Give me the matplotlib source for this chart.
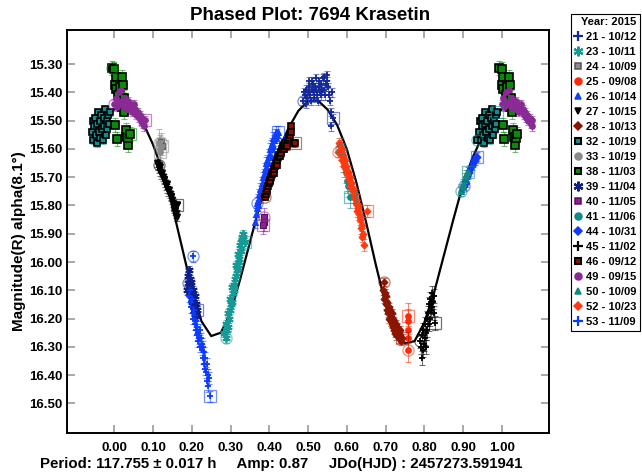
import matplotlib.pyplot as plt
import numpy as np
from matplotlib.lines import Line2D

plt.rcParams['font.family'] = ['Liberation Sans', 'DejaVu Sans']
plt.rcParams['font.weight'] = 'bold'

# Fourier fit, one cycle
fit_ph = [0.000, 0.025, 0.050, 0.075, 0.100, 0.125, 0.150, 0.175, 0.200, 0.225,
          0.250, 0.275, 0.300, 0.325, 0.350, 0.375, 0.400, 0.425, 0.450, 0.475,
          0.500, 0.525, 0.550, 0.575, 0.600, 0.625, 0.650, 0.675, 0.700, 0.725,
          0.750, 0.775, 0.800, 0.825, 0.850, 0.875, 0.900, 0.925, 0.950, 0.975]
fit_mag = [15.460, 15.445, 15.460, 15.510, 15.585, 15.680, 15.805, 15.950, 16.095, 16.210,
           16.262, 16.250, 16.180, 16.060, 15.930, 15.800, 15.690, 15.600, 15.525, 15.465,
           15.430, 15.428, 15.460, 15.515, 15.600, 15.720, 15.860, 16.010, 16.150, 16.245,
           16.288, 16.280, 16.215, 16.110, 15.980, 15.850, 15.725, 15.630, 15.555, 15.495]

# sessions: phase / magnitude
ph21 = [0.488, 0.490, 0.492, 0.494, 0.496, 0.498, 0.500, 0.502, 0.503, 0.506, 0.507, 0.509,
        0.511, 0.512, 0.515, 0.516, 0.518, 0.520, 0.521, 0.524, 0.525, 0.527, 0.529, 0.530,
        0.533, 0.534, 0.536, 0.538, 0.540, 0.542, 0.544, 0.546, 0.548, 0.550, 0.552, 0.554,
        0.556, 0.558, 0.560, 0.562, 0.565]
mag21 = [15.430, 15.400, 15.410, 15.440, 15.390, 15.420, 15.400, 15.360, 15.380, 15.410, 15.430, 15.390,
         15.360, 15.370, 15.400, 15.420, 15.380, 15.350, 15.390, 15.410, 15.430, 15.380, 15.360, 15.400,
         15.370, 15.410, 15.390, 15.350, 15.345, 15.390, 15.410, 15.370, 15.340, 15.360, 15.380, 15.410,
         15.430, 15.520, 15.470, 15.400, 15.490]
ph23 = [0.287, 0.284, 0.291, 0.289, 0.293, 0.296, 0.294, 0.298, 0.301, 0.299, 0.303, 0.306,
        0.304, 0.308, 0.311, 0.309, 0.313, 0.316, 0.314, 0.318, 0.321, 0.319, 0.323, 0.326,
        0.324, 0.328, 0.330, 0.327, 0.333, 0.331, 0.337]
mag23 = [16.270, 16.250, 16.240, 16.220, 16.230, 16.200, 16.180, 16.170, 16.150, 16.130, 16.140, 16.110,
         16.090, 16.100, 16.060, 16.080, 16.050, 16.030, 16.010, 16.020, 15.990, 15.970, 16.000, 15.950,
         15.940, 15.960, 15.910, 15.930, 15.900, 15.920, 15.930]
ph24 = [0.121, 0.123]
mag24 = [15.575, 15.590]
ph25 = [0.757, 0.757, 0.758, 0.758, 0.758]
mag25 = [16.310, 16.270, 16.240, 16.210, 16.190]
ph26 = [0.368, 0.364, 0.366, 0.369, 0.371, 0.372, 0.374, 0.376, 0.377, 0.379, 0.380, 0.382,
        0.383, 0.385, 0.386, 0.388, 0.389, 0.391, 0.392, 0.394, 0.395, 0.397, 0.398, 0.400,
        0.401, 0.403, 0.404, 0.406, 0.407, 0.409, 0.410, 0.412, 0.414, 0.416, 0.418, 0.420, 0.423]
mag26 = [15.790, 15.860, 15.830, 15.810, 15.780, 15.800, 15.760, 15.770, 15.740, 15.750, 15.720, 15.730,
         15.700, 15.720, 15.690, 15.700, 15.670, 15.680, 15.650, 15.670, 15.640, 15.650, 15.620, 15.630,
         15.600, 15.620, 15.590, 15.600, 15.580, 15.590, 15.560, 15.570, 15.550, 15.560, 15.540, 15.550, 15.540]
ph27 = [0.116, 0.110, 0.113, 0.115, 0.117, 0.119, 0.121, 0.123, 0.125, 0.127, 0.129, 0.131,
        0.133, 0.135, 0.137, 0.139, 0.141, 0.143, 0.145, 0.147, 0.149, 0.151, 0.153, 0.155,
        0.157, 0.159, 0.161, 0.163, 0.161]
mag27 = [15.657, 15.650, 15.660, 15.670, 15.665, 15.680, 15.690, 15.685, 15.700, 15.710, 15.705, 15.720,
         15.730, 15.725, 15.740, 15.750, 15.745, 15.760, 15.770, 15.765, 15.780, 15.790, 15.800, 15.810,
         15.820, 15.830, 15.840, 15.800, 15.800]
ph28 = [0.697, 0.694, 0.696, 0.699, 0.700, 0.702, 0.703, 0.705, 0.707, 0.708, 0.710, 0.711,
        0.713, 0.714, 0.716, 0.717, 0.719, 0.720, 0.722, 0.723, 0.725, 0.726, 0.728, 0.729,
        0.731, 0.732, 0.734, 0.735, 0.737, 0.738, 0.740, 0.742]
mag28 = [16.070, 16.100, 16.130, 16.110, 16.150, 16.120, 16.170, 16.140, 16.180, 16.160, 16.200, 16.170,
         16.210, 16.190, 16.220, 16.180, 16.230, 16.200, 16.240, 16.210, 16.250, 16.220, 16.260, 16.230,
         16.250, 16.240, 16.270, 16.250, 16.260, 16.240, 16.280, 16.270]
ph32 = [0.936, 0.942, 0.944, 0.946, 0.948, 0.950, 0.952, 0.954, 0.956, 0.958, 0.960, 0.962,
        0.964, 0.966, 0.968, 0.970, 0.972, 0.974, 0.976, 0.978, 0.980, 0.982, 0.984, 0.986, 0.988]
mag32 = [15.568, 15.540, 15.500, 15.570, 15.520, 15.490, 15.550, 15.580, 15.510, 15.470, 15.540, 15.500,
         15.560, 15.480, 15.530, 15.570, 15.490, 15.520, 15.460, 15.550, 15.500, 15.530, 15.480, 15.510, 15.470]
ph33 = [0.116, 0.117, 0.118]
mag33 = [15.580, 15.600, 15.610]
ph38 = [-0.006, 0.000, 0.003, 0.001, 0.004, 0.002, 0.006, 0.010, 0.014, 0.019, 0.022, 0.024,
        0.021, 0.026, 0.029, 0.031, 0.034, 0.036, 0.040]
mag38 = [15.312, 15.318, 15.345, 15.372, 15.388, 15.515, 15.565, 15.410, 15.380, 15.346, 15.372, 15.418,
         15.450, 15.470, 15.532, 15.556, 15.585, 15.560, 15.548]
ph39 = [0.191, 0.188, 0.190, 0.192, 0.193, 0.195, 0.196, 0.198, 0.199, 0.201, 0.202, 0.204,
        0.205, 0.207, 0.208, 0.210, 0.212, 0.214]
mag39 = [16.075, 16.100, 16.050, 16.030, 16.110, 16.060, 16.090, 16.120, 16.070, 16.140, 16.100, 16.130,
         16.160, 16.120, 16.170, 16.150, 16.190, 16.170]
ph40 = [0.387, 0.386, 0.385]
mag40 = [15.840, 15.860, 15.870]
ph41 = [0.586, 0.590, 0.594, 0.597, 0.600, 0.604, 0.608]
mag41 = [15.600, 15.640, 15.660, 15.680, 15.715, 15.730, 15.770]
ph44 = [0.903, 0.907, 0.910, 0.913, 0.916, 0.919, 0.922, 0.925, 0.928, 0.931, 0.934, 0.936]
mag44 = [15.730, 15.720, 15.700, 15.690, 15.680, 15.670, 15.660, 15.650, 15.640, 15.640, 15.630, 15.627]
ph45 = [0.789, 0.791, 0.793, 0.795, 0.796, 0.798, 0.799, 0.801, 0.802, 0.804, 0.805, 0.807,
        0.808, 0.810, 0.811, 0.813, 0.814, 0.816, 0.817, 0.819, 0.820, 0.822, 0.824, 0.826, 0.828]
mag45 = [16.280, 16.300, 16.340, 16.260, 16.310, 16.240, 16.290, 16.270, 16.220, 16.250, 16.300, 16.200,
         16.240, 16.180, 16.220, 16.150, 16.200, 16.130, 16.170, 16.110, 16.160, 16.140, 16.120, 16.180, 16.215]
ph46 = [0.389, 0.391, 0.393, 0.395, 0.397, 0.399, 0.401, 0.403, 0.405, 0.407, 0.409, 0.411,
        0.413, 0.415, 0.417, 0.419, 0.421, 0.423, 0.425, 0.427, 0.429, 0.431, 0.433, 0.435,
        0.437, 0.439, 0.441, 0.443, 0.445, 0.447, 0.449, 0.451, 0.453, 0.455, 0.457, 0.460, 0.466]
mag46 = [15.770, 15.760, 15.750, 15.740, 15.730, 15.720, 15.710, 15.715, 15.700, 15.690, 15.680, 15.685,
         15.670, 15.660, 15.650, 15.655, 15.640, 15.630, 15.620, 15.625, 15.610, 15.615, 15.600, 15.590,
         15.600, 15.585, 15.580, 15.590, 15.590, 15.570, 15.570, 15.560, 15.550, 15.540, 15.520, 15.580, 15.580]
ph49 = [0.000, 0.003, 0.006, 0.009, 0.012, 0.015, 0.018, 0.021, 0.024, 0.027, 0.030, 0.033,
        0.036, 0.039, 0.042, 0.045, 0.048, 0.051, 0.054, 0.057, 0.060, 0.063, 0.066, 0.069,
        0.072, 0.075, 0.077, 0.079]
mag49 = [15.440, 15.420, 15.450, 15.430, 15.400, 15.440, 15.390, 15.430, 15.450, 15.420, 15.440, 15.460,
         15.430, 15.450, 15.440, 15.470, 15.450, 15.440, 15.460, 15.480, 15.470, 15.490, 15.480, 15.500,
         15.490, 15.510, 15.520, 15.497]
ph50 = [0.894, 0.896, 0.899, 0.901, 0.904, 0.906, 0.909, 0.912]
mag50 = [15.750, 15.740, 15.730, 15.720, 15.710, 15.700, 15.690, 15.680]
ph52 = [0.578, 0.580, 0.582, 0.584, 0.585, 0.587, 0.588, 0.590, 0.591, 0.593, 0.594, 0.596,
        0.597, 0.599, 0.600, 0.602, 0.603, 0.605, 0.606, 0.608, 0.609, 0.611, 0.612, 0.614,
        0.615, 0.617, 0.618, 0.620, 0.621, 0.623, 0.624, 0.626, 0.627, 0.629, 0.630, 0.632,
        0.633, 0.635, 0.636, 0.638, 0.640, 0.642, 0.644, 0.651]
mag52 = [15.610, 15.580, 15.590, 15.610, 15.620, 15.600, 15.640, 15.620, 15.630, 15.650, 15.660, 15.640,
         15.670, 15.660, 15.690, 15.680, 15.680, 15.700, 15.710, 15.700, 15.730, 15.720, 15.720, 15.740,
         15.750, 15.740, 15.770, 15.760, 15.760, 15.780, 15.790, 15.800, 15.820, 15.800, 15.810, 15.830,
         15.850, 15.840, 15.880, 15.870, 15.910, 15.900, 15.940, 15.820]
ph53 = [0.204, 0.193, 0.196, 0.198, 0.199, 0.201, 0.202, 0.204, 0.205, 0.207, 0.208, 0.210,
        0.211, 0.213, 0.214, 0.216, 0.217, 0.219, 0.220, 0.222, 0.223, 0.225, 0.226, 0.228,
        0.229, 0.231, 0.232, 0.234, 0.235, 0.237, 0.238, 0.240, 0.241, 0.243, 0.244, 0.247]
mag53 = [15.980, 16.120, 16.100, 16.160, 16.140, 16.130, 16.180, 16.200, 16.170, 16.220, 16.190, 16.240,
         16.210, 16.260, 16.230, 16.280, 16.250, 16.270, 16.240, 16.300, 16.270, 16.310, 16.290, 16.340,
         16.300, 16.360, 16.320, 16.380, 16.340, 16.390, 16.360, 16.420, 16.400, 16.440, 16.410, 16.475]

ast = (6, 2, 0)
# label, phases, mags, error, marker, face, edge, size
sessions = [
    ("21 - 10/12", ph21, mag21, 0.015, '+', '#13289a', '#13289a', 5),
    ("23 - 10/11", ph23, mag23, 0.015, ast, '#169a96', '#169a96', 6),
    ("24 - 10/09", ph24, mag24, 0.030, 's', '#8c8c8c', '#555555', 4),
    ("25 - 09/08", ph25, mag25, 0.045, 'o', '#ff2a0a', '#ff2a0a', 4),
    ("26 - 10/14", ph26, mag26, 0.020, '^', '#1040ff', '#1040ff', 4),
    ("27 - 10/15", ph27, mag27, 0.015, 'v', '#000000', '#000000', 4),
    ("28 - 10/13", ph28, mag28, 0.015, 'D', '#8b1500', '#8b1500', 3.5),
    ("32 - 10/19", ph32, mag32, 0.012, 's', '#108e8e', '#000000', 4.5),
    ("33 - 10/19", ph33, mag33, 0.050, 'o', '#8a8a8a', '#8a8a8a', 4),
    ("38 - 11/03", ph38, mag38, 0.025, 's', '#0a8a0a', '#000000', 5.5),
    ("39 - 11/04", ph39, mag39, 0.015, ast, '#10208a', '#10208a', 6),
    ("40 - 11/05", ph40, mag40, 0.030, 's', '#902090', '#5a105a', 4),
    ("41 - 11/06", ph41, mag41, 0.040, 'o', '#108a8a', '#108a8a', 4),
    ("44 - 10/31", ph44, mag44, 0.015, 'D', '#1038ff', '#1038ff', 3.5),
    ("45 - 11/02", ph45, mag45, 0.025, '+', '#000000', '#000000', 5),
    ("46 - 09/12", ph46, mag46, 0.012, 's', '#8a1000', '#000000', 4.5),
    ("49 - 09/15", ph49, mag49, 0.015, 'o', '#8a2a95', '#8a2a95', 4),
    ("50 - 10/09", ph50, mag50, 0.015, '^', '#108a7a', '#108a7a', 4),
    ("52 - 10/23", ph52, mag52, 0.020, 'D', '#ff3a10', '#ff3a10', 3.5),
    ("53 - 11/09", ph53, mag53, 0.020, '+', '#0a3aff', '#0a3aff', 5),
]

fig = plt.figure(figsize=(6.42, 4.73), dpi=100)
ax = fig.add_axes([66.7 / 642, 1 - 432.7 / 473, (549 - 66.7) / 642, (432.7 - 30) / 473])

# fit curve, a little past both ends of the cycle
cp = np.array(fit_ph)
cm = np.array(fit_mag)
cp = np.concatenate([cp[-1:] - 1, cp, cp[:2] + 1])
cm = np.concatenate([cm[-1:], cm, cm[:2]])
ax.plot(cp, cm, color='black', lw=1.6, zorder=2)

handles = []
for lab, ph, mag, err, mk, fc, ec, ms in sessions:
    ph = np.array(ph)
    mag = np.array(mag)
    # repeat points near the cycle edges
    lo = ph < 0.08
    hi = ph > 0.94
    x = np.concatenate([ph, ph[lo] + 1, ph[hi] - 1])
    y = np.concatenate([mag, mag[lo], mag[hi]])
    if mk in ('+', ast):
        mew = 1.3
    elif ec == '#000000' and mk == 's':
        mew = 1.2
    else:
        mew = 0.8
    ax.errorbar(x, y, yerr=err, fmt='none', ecolor=fc, alpha=0.55, elinewidth=0.8,
                capsize=2, capthick=0.8, zorder=3)
    ax.plot(x, y, ls='none', marker=mk, ms=ms, mfc=fc, mec=ec, mew=mew, zorder=4)
    # first and last observation of the night
    ax.plot(ph[0], mag[0], ls='none', marker='o', ms=8, mfc='none', mec=fc, mew=0.9, alpha=0.55, zorder=5)
    ax.plot(ph[-1], mag[-1], ls='none', marker='s', ms=8, mfc='none', mec=fc, mew=0.9, alpha=0.55, zorder=5)
    if mk == 'D':
        lms = 4
    elif mk in ('+', ast):
        lms = 7
    else:
        lms = 5
    handles.append(Line2D([], [], ls='none', marker=mk, ms=lms, mfc=fc, mec=ec, mew=mew + 0.3, label=lab))

ax.set_xlim(-0.123, 1.122)
ax.set_ylim(16.604, 15.179)
xt = np.round(np.arange(0, 1.01, 0.1), 2)
yt = np.round(np.arange(15.3, 16.51, 0.1), 2)
ax.set_xticks(xt)
ax.set_xticklabels(['%.2f' % v for v in xt])
ax.set_yticks(yt)
ax.set_yticklabels(['%.2f' % v for v in yt])
ax.tick_params(direction='in', length=6, width=1.2, color='#999999', top=True, right=True,
               labelsize=9.5)
ax.tick_params(axis='x', pad=6.5)
ax.tick_params(axis='y', pad=3)
for s in ax.spines.values():
    s.set_linewidth(1.4)

fig.text(0.483, 0.968, 'Phased Plot: 7694 Krasetin', ha='center', va='center', fontsize=13.5, fontweight='bold')
fig.text(19 / 642, 1 - 241 / 473, 'Magnitude(R) alpha(8.1°)', rotation=90, ha='center', va='center', fontsize=11)
fig.text(40 / 642, 1 - 464 / 473,
         'Period: 117.755 ± 0.017 h     Amp: 0.87     JDo(HJD) : 2457273.591941',
         ha='left', va='center', fontsize=10.8)

leg = fig.legend(handles=handles, loc='upper right', bbox_to_anchor=(640 / 642, 1 - 14 / 473),
                 title='Year: 2015', fontsize=8, title_fontsize=8, frameon=True, fancybox=False,
                 edgecolor='black', framealpha=1, handlelength=0.8, handletextpad=0.3,
                 labelspacing=0.45, borderpad=0.3, borderaxespad=0, alignment='right')
leg.get_frame().set_linewidth(0.8)
leg.get_title().set_fontweight('bold')

fig.savefig('out.png', dpi=100)
